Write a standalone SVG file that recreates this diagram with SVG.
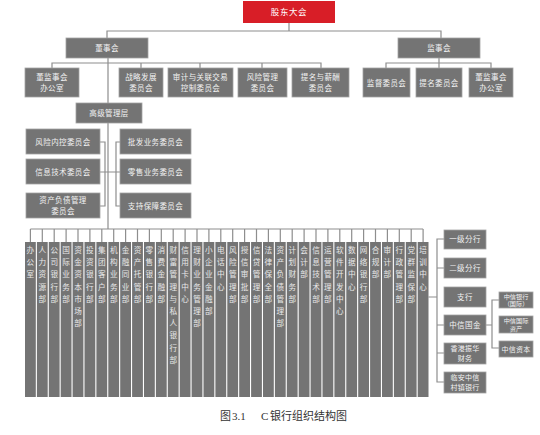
<svg xmlns="http://www.w3.org/2000/svg" width="540" height="435" viewBox="0 0 540 435">
<style>
.b{fill:#747474;stroke:#a3a3a3;stroke-width:0.8}
.r{fill:#d81e27}
.t{font-family:"Noto Sans CJK SC","Noto Sans",sans-serif;font-size:7.5px;fill:#f2f2f2;text-anchor:middle;letter-spacing:0.4px}
.t2{font-family:"Noto Sans CJK SC","Noto Sans",sans-serif;font-size:7px;fill:#f2f2f2;text-anchor:middle;letter-spacing:0.3px}
.ts{font-family:"Noto Sans CJK SC","Noto Sans",sans-serif;font-size:6.2px;fill:#f2f2f2;text-anchor:middle}
.tr{font-family:"Noto Sans CJK SC","Noto Sans",sans-serif;font-size:8.5px;fill:#ffffff;text-anchor:middle;letter-spacing:0.6px}
.c{fill:#747474}
.ct{font-family:"Noto Sans CJK SC","Noto Sans",sans-serif;font-size:7.6px;fill:#e8e8e8;text-anchor:middle}
.l{fill:none;stroke:#8e8e8e;stroke-width:1.2}
.cap{font-family:"Liberation Serif","Noto Sans CJK SC",serif;font-size:11px;fill:#333333}
</style>
<rect width="540" height="435" fill="#ffffff"/>
<g id="connectors">
<path class="l" d="M289 23V31M107 38V31H441V38"/>
<path class="l" d="M52 68V63H321V68M141 63V68M200 63V68M262 63V68"/>
<path class="l" d="M386 68V63H491V68M439 58V68"/>
<path class="l" d="M108 58V229"/>
<path class="l" d="M100 142H105V206H100M100 172H120M120 142H116V206H120"/>
<path class="l" d="M30.4 229H423.1"/>
<path class="l" d="M30.4 229V242M42.3 229V242M54.2 229V242M66.1 229V242M78 229V242M89.9 229V242M101.8 229V242M113.7 229V242M125.6 229V242M137.5 229V242M149.4 229V242M161.3 229V242M173.2 229V242M185.1 229V242M197 229V242M208.9 229V242M220.8 229V242M232.7 229V242M244.6 229V242M256.5 229V242M268.4 229V242M280.3 229V242M292.2 229V242M304.1 229V242M316 229V242M327.9 229V242M339.8 229V242M351.7 229V242M363.6 229V242M375.5 229V242M387.4 229V242M399.3 229V242M411.2 229V242M423.1 229V242"/>
<path class="l" d="M428.5 297H437M444 239H437V382H444M437 268H444M437 325H444M437 353H444"/>
<path class="l" d="M486 325H492M499 300H492V348H499"/>
</g>
<g id="n_gudong"><rect class="r" x="243" y="1" width="92" height="22"/><text class="tr" x="289" y="15">股东大会</text></g>
<g id="n_dongshi"><rect class="b" x="66" y="38" width="82" height="20"/><text class="t" x="107" y="50.7">董事会</text></g>
<g id="n_jianshi"><rect class="b" x="398" y="38" width="82" height="20"/><text class="t" x="439" y="50.7">监事会</text></g>
<g id="n_djb1"><rect class="b" x="25" y="68" width="54" height="29"/><text class="t" x="52" y="80">董监事会</text><text class="t" x="52" y="91">办公室</text></g>
<g id="n_zlfz"><rect class="b" x="119" y="68" width="44" height="29"/><text class="t" x="141" y="80">战略发展</text><text class="t" x="141" y="91">委员会</text></g>
<g id="n_sjgl"><rect class="b" x="168" y="68" width="65" height="29"/><text class="t" x="200.5" y="80">审计与关联交易</text><text class="t" x="200.5" y="91">控制委员会</text></g>
<g id="n_fxgl"><rect class="b" x="238" y="68" width="49" height="29"/><text class="t" x="262.5" y="80">风险管理</text><text class="t" x="262.5" y="91">委员会</text></g>
<g id="n_tmxc"><rect class="b" x="292" y="68" width="57" height="29"/><text class="t" x="320.5" y="80">提名与薪酬</text><text class="t" x="320.5" y="91">委员会</text></g>
<g id="n_jdwy"><rect class="b" x="363" y="68" width="47" height="29"/><text class="t" x="386.5" y="85.5">监督委员会</text></g>
<g id="n_tmwy"><rect class="b" x="416" y="68" width="46" height="29"/><text class="t" x="439" y="85.5">提名委员会</text></g>
<g id="n_djb2"><rect class="b" x="469" y="68" width="44" height="29"/><text class="t" x="491" y="80">董监事会</text><text class="t" x="491" y="91">办公室</text></g>
<g id="n_gjgl"><rect class="b" x="76" y="103" width="66" height="20"/><text class="t" x="109" y="115.7">高级管理层</text></g>
<g id="n_fxnk"><rect class="b" x="26" y="129" width="74" height="25"/><text class="t" x="63" y="144.5">风险内控委员会</text></g>
<g id="n_xxjs"><rect class="b" x="26" y="159" width="74" height="25"/><text class="t" x="63" y="174.5">信息技术委员会</text></g>
<g id="n_zcfz"><rect class="b" x="26" y="193" width="74" height="25"/><text class="t" x="63" y="203">资产负债管理</text><text class="t" x="63" y="214">委员会</text></g>
<g id="n_pfyw"><rect class="b" x="120" y="129" width="71" height="25"/><text class="t" x="155.5" y="144.5">批发业务委员会</text></g>
<g id="n_lsyw"><rect class="b" x="120" y="159" width="71" height="25"/><text class="t" x="155.5" y="174.5">零售业务委员会</text></g>
<g id="n_zcbz"><rect class="b" x="120" y="193" width="71" height="25"/><text class="t" x="155.5" y="208.5">支持保障委员会</text></g>
<g id="col0"><rect class="c" x="25" y="242" width="10.8" height="155"/><text class="ct" x="30.4 30.4 30.4" y="253 265.2 277.4">办公室</text></g>
<g id="col1"><rect class="c" x="36.9" y="242" width="10.8" height="155"/><text class="ct" x="42.3 42.3 42.3 42.3 42.3" y="253 265.2 277.4 289.6 301.8">人力资源部</text></g>
<g id="col2"><rect class="c" x="48.8" y="242" width="10.8" height="155"/><text class="ct" x="54.2 54.2 54.2 54.2 54.2" y="253 265.2 277.4 289.6 301.8">公司银行部</text></g>
<g id="col3"><rect class="c" x="60.7" y="242" width="10.8" height="155"/><text class="ct" x="66.1 66.1 66.1 66.1 66.1" y="253 265.2 277.4 289.6 301.8">国际业务部</text></g>
<g id="col4"><rect class="c" x="72.6" y="242" width="10.8" height="155"/><text class="ct" x="78 78 78 78 78 78 78" y="253 265.2 277.4 289.6 301.8 314 326.2">资金资本市场部</text></g>
<g id="col5"><rect class="c" x="84.5" y="242" width="10.8" height="155"/><text class="ct" x="89.9 89.9 89.9 89.9 89.9" y="253 265.2 277.4 289.6 301.8">投资银行部</text></g>
<g id="col6"><rect class="c" x="96.4" y="242" width="10.8" height="155"/><text class="ct" x="101.8 101.8 101.8 101.8 101.8" y="253 265.2 277.4 289.6 301.8">集团客户部</text></g>
<g id="col7"><rect class="c" x="108.3" y="242" width="10.8" height="155"/><text class="ct" x="113.7 113.7 113.7 113.7 113.7" y="253 265.2 277.4 289.6 301.8">机构业务部</text></g>
<g id="col8"><rect class="c" x="120.2" y="242" width="10.8" height="155"/><text class="ct" x="125.6 125.6 125.6 125.6 125.6" y="253 265.2 277.4 289.6 301.8">金融同业部</text></g>
<g id="col9"><rect class="c" x="132.1" y="242" width="10.8" height="155"/><text class="ct" x="137.5 137.5 137.5 137.5 137.5" y="253 265.2 277.4 289.6 301.8">资产托管部</text></g>
<g id="col10"><rect class="c" x="144" y="242" width="10.8" height="155"/><text class="ct" x="149.4 149.4 149.4 149.4 149.4" y="253 265.2 277.4 289.6 301.8">零售银行部</text></g>
<g id="col11"><rect class="c" x="155.9" y="242" width="10.8" height="155"/><text class="ct" x="161.3 161.3 161.3 161.3 161.3" y="253 265.2 277.4 289.6 301.8">消费金融部</text></g>
<g id="col12"><rect class="c" x="167.8" y="242" width="10.8" height="155"/><text class="ct" x="173.2 173.2 173.2 173.2 173.2 173.2 173.2 173.2 173.2 173.2" y="253 265.2 277.4 289.6 301.8 314 326.2 338.4 350.6 362.8">财富管理与私人银行部</text></g>
<g id="col13"><rect class="c" x="179.7" y="242" width="10.8" height="155"/><text class="ct" x="185.1 185.1 185.1 185.1 185.1" y="253 265.2 277.4 289.6 301.8">信用卡中心</text></g>
<g id="col14"><rect class="c" x="191.6" y="242" width="10.8" height="155"/><text class="ct" x="197 197 197 197 197 197 197" y="253 265.2 277.4 289.6 301.8 314 326.2">理财业务管理部</text></g>
<g id="col15"><rect class="c" x="203.5" y="242" width="10.8" height="155"/><text class="ct" x="208.9 208.9 208.9 208.9 208.9 208.9" y="253 265.2 277.4 289.6 301.8 314">小企业金融部</text></g>
<g id="col16"><rect class="c" x="215.4" y="242" width="10.8" height="155"/><text class="ct" x="220.8 220.8 220.8 220.8" y="253 265.2 277.4 289.6">电话中心</text></g>
<g id="col17"><rect class="c" x="227.3" y="242" width="10.8" height="155"/><text class="ct" x="232.7 232.7 232.7 232.7 232.7" y="253 265.2 277.4 289.6 301.8">风险管理部</text></g>
<g id="col18"><rect class="c" x="239.2" y="242" width="10.8" height="155"/><text class="ct" x="244.6 244.6 244.6 244.6 244.6" y="253 265.2 277.4 289.6 301.8">授信审批部</text></g>
<g id="col19"><rect class="c" x="251.1" y="242" width="10.8" height="155"/><text class="ct" x="256.5 256.5 256.5 256.5 256.5" y="253 265.2 277.4 289.6 301.8">信贷管理部</text></g>
<g id="col20"><rect class="c" x="263" y="242" width="10.8" height="155"/><text class="ct" x="268.4 268.4 268.4 268.4 268.4" y="253 265.2 277.4 289.6 301.8">法律保全部</text></g>
<g id="col21"><rect class="c" x="274.9" y="242" width="10.8" height="155"/><text class="ct" x="280.3 280.3 280.3 280.3 280.3 280.3 280.3" y="253 265.2 277.4 289.6 301.8 314 326.2">资产负债管理部</text></g>
<g id="col22"><rect class="c" x="286.8" y="242" width="10.8" height="155"/><text class="ct" x="292.2 292.2 292.2 292.2 292.2" y="253 265.2 277.4 289.6 301.8">计划财务部</text></g>
<g id="col23"><rect class="c" x="298.7" y="242" width="10.8" height="155"/><text class="ct" x="304.1 304.1 304.1" y="253 265.2 277.4">会计部</text></g>
<g id="col24"><rect class="c" x="310.6" y="242" width="10.8" height="155"/><text class="ct" x="316 316 316 316 316" y="253 265.2 277.4 289.6 301.8">信息技术部</text></g>
<g id="col25"><rect class="c" x="322.5" y="242" width="10.8" height="155"/><text class="ct" x="327.9 327.9 327.9 327.9 327.9" y="253 265.2 277.4 289.6 301.8">运营管理部</text></g>
<g id="col26"><rect class="c" x="334.4" y="242" width="10.8" height="155"/><text class="ct" x="339.8 339.8 339.8 339.8 339.8 339.8" y="253 265.2 277.4 289.6 301.8 314">软件开发中心</text></g>
<g id="col27"><rect class="c" x="346.3" y="242" width="10.8" height="155"/><text class="ct" x="351.7 351.7 351.7 351.7" y="253 265.2 277.4 289.6">数据中心</text></g>
<g id="col28"><rect class="c" x="358.2" y="242" width="10.8" height="155"/><text class="ct" x="363.6 363.6 363.6 363.6 363.6" y="253 265.2 277.4 289.6 301.8">网络银行部</text></g>
<g id="col29"><rect class="c" x="370.1" y="242" width="10.8" height="155"/><text class="ct" x="375.5 375.5 375.5" y="253 265.2 277.4">合规部</text></g>
<g id="col30"><rect class="c" x="382" y="242" width="10.8" height="155"/><text class="ct" x="387.4 387.4 387.4" y="253 265.2 277.4">审计部</text></g>
<g id="col31"><rect class="c" x="393.9" y="242" width="10.8" height="155"/><text class="ct" x="399.3 399.3 399.3 399.3 399.3" y="253 265.2 277.4 289.6 301.8">行政管理部</text></g>
<g id="col32"><rect class="c" x="405.8" y="242" width="10.8" height="155"/><text class="ct" x="411.2 411.2 411.2 411.2 411.2" y="253 265.2 277.4 289.6 301.8">党群监保部</text></g>
<g id="col33"><rect class="c" x="417.7" y="242" width="10.8" height="155"/><text class="ct" x="423.1 423.1 423.1 423.1" y="253 265.2 277.4 289.6">培训中心</text></g>
<g id="n_yjfh"><rect class="b" x="444" y="230" width="42" height="19"/><text class="t" x="465" y="242.2">一级分行</text></g>
<g id="n_ejfh"><rect class="b" x="444" y="258" width="42" height="20"/><text class="t" x="465" y="270.7">二级分行</text></g>
<g id="n_zh"><rect class="b" x="444" y="287" width="42" height="20"/><text class="t" x="465" y="299.7">支行</text></g>
<g id="n_zxgj"><rect class="b" x="444" y="315" width="42" height="20"/><text class="t" x="465" y="327.7">中信国金</text></g>
<g id="n_xgzh"><rect class="b" x="444" y="343" width="42" height="21"/><text class="t2" x="465" y="351.3">香港振华</text><text class="t2" x="465" y="361">财务</text></g>
<g id="n_la"><rect class="b" x="444" y="372" width="42" height="21"/><text class="t2" x="465" y="380.3">临安中信</text><text class="t2" x="465" y="390">村镇银行</text></g>
<g id="n_zxyh"><rect class="b" x="499" y="292" width="34" height="16"/><text class="ts" x="516" y="298.6">中信银行</text><text class="ts" x="516" y="306.2">（国际）</text></g>
<g id="n_zxgjzc"><rect class="b" x="499" y="316" width="34" height="17"/><text class="ts" x="516" y="323">中信国际</text><text class="ts" x="516" y="331">资产</text></g>
<g id="n_zxzb"><rect class="b" x="499" y="341" width="34" height="16"/><text class="t2" x="516" y="351.5">中信资本</text></g>
<text class="cap" x="220" y="420">图<tspan x="232">3.1</tspan><tspan x="261">C</tspan><tspan x="270">银行组织结构图</tspan></text>
</svg>
